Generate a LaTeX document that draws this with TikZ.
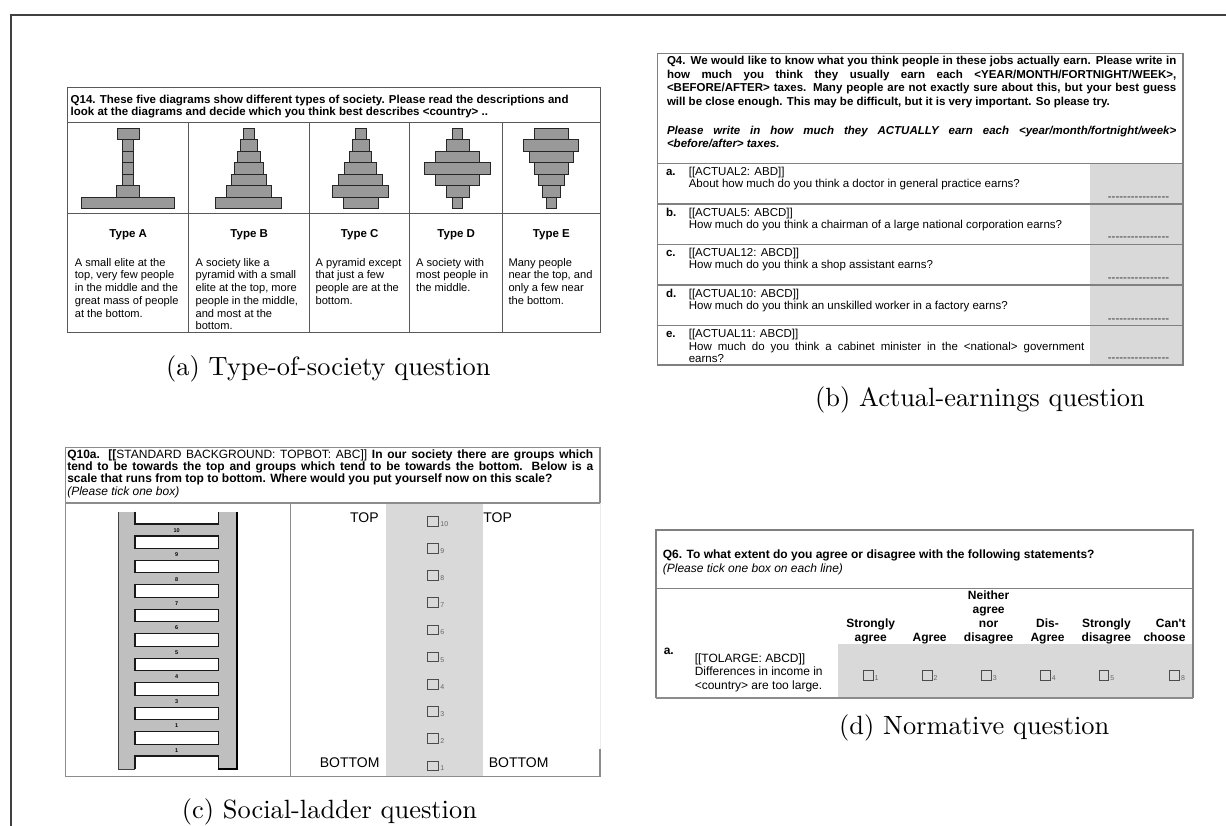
\documentclass[tikz,border=0pt]{standalone}
\usepackage{fontspec}
\newfontfamily\arial{Liberation Sans}
\newcommand\fs[1]{\fontsize{#1}{#1}\selectfont\arial}
\newcommand\hy{\hbox{-}}
\newcommand\dashline{\hy\hy\hy\hy\hy\hy\hy\hy\hy\hy\hy\hy\hy\hy\hy\hy}
\newcommand\capt[1]{\scalebox{2.64}{\fontsize{10}{12}\selectfont #1}}
\begin{document}
\begin{tikzpicture}[x=1pt,y=-1pt,
  frame/.style={draw=black!75, line width=1.5pt},
  gridA/.style={draw=black!65, line width=1pt},
  gridB/.style={draw=black!50, line width=1.3pt},
  gridC/.style={draw=black!45, line width=1.2pt},
  gridD/.style={draw=black!50, line width=1.2pt},
  shade/.style={fill=black!15},
  ladgray/.style={fill=black!25},
  rung/.style={fill=white, draw=black!90, line width=1.1pt},
  pyr/.style={draw=black!85, line width=0.7pt, fill=black!40},
  txt/.style={inner sep=0pt, anchor=base west},
  ctr/.style={inner sep=0pt, anchor=base},
  cbox/.style={draw=black!70, line width=0.8pt},
  sub/.style={font=\fs{7}, text=black!60, anchor=base west, inner sep=0pt},
  capnode/.style={inner sep=0pt, anchor=base west}]
\useasboundingbox (0,0) rectangle (1226,826);
\fill[white] (0,0) rectangle (1226,826);
% outer frame
\coordinate (f0) at (11,15); \coordinate (f1) at (1226,15); \coordinate (f2) at (11,826);
\draw[frame] (f1) -- (f0) -- (f2);

% ================= (a) =================
\draw[gridA] (67.7,87.3) rectangle (600.2,332.3);
\draw[gridA] (67.7,122.7) -- (600.2,122.7) (67.7,213.7) -- (600.2,213.7);
\foreach \x in {188.7,309.7,409.7,502.6} \draw[gridA] (\x,122.7) -- (\x,332.3);
\node[txt,font=\fs{11.5}\bfseries] (aq1) at (70.5,103.3) {Q14. These five diagrams show different types of society. Please read the descriptions and};
\node[txt,font=\fs{11.5}\bfseries] (aq2) at (70.5,115.3) {look at the diagrams and decide which you think best describes <country> ..};
% pyramids
\foreach \w [count=\r from 0] in {22.1,11.2,11.2,11.2,11.2,22.8,93}
  \draw[pyr] ({128.0-\w/2},{128.3+11.43*\r}) rectangle ++(\w,11.43);
\foreach \w [count=\r from 0] in {10.5,17.5,23.5,29.1,34.4,44.9,65.9}
  \draw[pyr] ({248.7-\w/2},{128.3+11.43*\r}) rectangle ++(\w,11.43);
\foreach \w [count=\r from 0] in {10.5,16.5,22.1,32.3,43.8,55.8,34.7}
  \draw[pyr] ({360.6-\w/2},{128.3+11.43*\r}) rectangle ++(\w,11.43);
\foreach \w [count=\r from 0] in {10.5,23.1,44.2,65.9,44.2,23.1,10.5}
  \draw[pyr] ({457.4-\w/2},{128.3+11.43*\r}) rectangle ++(\w,11.43);
\foreach \w [count=\r from 0] in {34,55.1,43.5,34,26.3,17.9,10.5}
  \draw[pyr] ({551.1-\w/2},{128.3+11.43*\r}) rectangle ++(\w,11.43);
% type heads
\node[ctr,font=\fs{11.5}\bfseries] (tA) at (128.2,238) {Type A};
\node[ctr,font=\fs{11.5}\bfseries] (tB) at (249.2,238) {Type B};
\node[ctr,font=\fs{11.5}\bfseries] (tC) at (359.7,238) {Type C};
\node[ctr,font=\fs{11.5}\bfseries] (tD) at (456.2,238) {Type D};
\node[ctr,font=\fs{11.5}\bfseries] (tE) at (551.4,238) {Type E};
\foreach \t [count=\i from 0] in {{A small elite at the},{top, very few people},{in the middle and the},{great mass of people},{at the bottom.}}
  \node[txt,font=\fs{11.1}] (dA\i) at (74.7,{266.3+12.7*\i}) {\t};
\foreach \t [count=\i from 0] in {{A society like a},{pyramid with a small},{elite at the top, more},{people in the middle,},{and most at the},{bottom.}}
  \node[txt,font=\fs{11.1}] (dB\i) at (195.4,{266.3+12.7*\i}) {\t};
\foreach \t [count=\i from 0] in {{A pyramid except},{that just a few},{people are at the},{bottom.}}
  \node[txt,font=\fs{11.1}] (dC\i) at (315.4,{266.3+12.7*\i}) {\t};
\foreach \t [count=\i from 0] in {{A society with},{most people in},{the middle.}}
  \node[txt,font=\fs{11.1}] (dD\i) at (416,{266.3+12.7*\i}) {\t};
\foreach \t [count=\i from 0] in {{Many people},{near the top, and},{only a few near},{the bottom.}}
  \node[txt,font=\fs{11.1}] (dE\i) at (508.3,{266.3+12.7*\i}) {\t};
\node[capnode] (capa) at (166,375) {\capt{(a) Type-of-society question}};

% ================= (b) =================
\fill[shade] (1090.2,163.3) rectangle (1183.1,365);
\draw[gridB] (657.7,53.3) rectangle (1183.1,365);
\foreach \y in {163.3,204,244.3,285,325.7} \draw[gridB] (657.7,\y) -- (1183.1,\y);
\node[txt,font=\fs{11.5}\bfseries] (bq1) at (666.8,64.8) {\makebox[509.3pt][s]{Q4. We would like to know what you think people in these jobs actually earn. Please write in}};
\node[txt,font=\fs{11.5}\bfseries] (bq2) at (666.8,78.3) {\makebox[509.3pt][s]{how much you think they usually earn each <YEAR/MONTH/FORTNIGHT/WEEK>,}};
\node[txt,font=\fs{11.5}\bfseries] (bq3) at (666.8,91.8) {\makebox[509.3pt][s]{<BEFORE/AFTER> taxes. Many people are not exactly sure about this, but your best guess}};
\node[txt,font=\fs{11.5}\bfseries] (bq4) at (666.8,105.3) {will be close enough. This may be difficult, but it is very important. So please try.};
\node[txt,font=\fs{11.5}\bfseries\itshape] (bq5) at (666.8,134.1) {\makebox[509.3pt][s]{Please write in how much they ACTUALLY earn each <year/month/fortnight/week>}};
\node[txt,font=\fs{11.5}\bfseries\itshape] (bq6) at (666.8,147.6) {<before/after> taxes.};
% rows
\foreach \top/\l/\c/\q [count=\i] in {
  163.3/a./{[[ACTUAL2: ABD]]}/{About how much do you think a doctor in general practice earns?},
  204/b./{[[ACTUAL5: ABCD]]}/{How much do you think a chairman of a large national corporation earns?},
  244.3/c./{[[ACTUAL12: ABCD]]}/{How much do you think a shop assistant earns?},
  285/d./{[[ACTUAL10: ABCD]]}/{How much do you think an unskilled worker in a factory earns?}}{
  \node[txt,font=\fs{11.5}\bfseries] (bl\i) at (665.8,{\top+12.2}) {\l};
  \node[txt,font=\fs{11.5}] (bc\i) at (688.6,{\top+12.2}) {\c};
  \node[txt,font=\fs{11.5}] (bt\i) at (688.6,{\top+24.7}) {\q};
}
\node[txt,font=\fs{11.5}\bfseries] (bl5) at (665.8,337.9) {e.};
\node[txt,font=\fs{11.5}] (bc5) at (688.6,337.9) {[[ACTUAL11: ABCD]]};
\node[txt,font=\fs{11.5}] (bt5) at (688.6,350.4) {\makebox[395.6pt][s]{How much do you think a cabinet minister in the <national> government}};
\node[txt,font=\fs{11.5}] (bu5) at (688.6,362.9) {earns?};
\foreach \y [count=\i] in {204,244.3,285,325.7,365}
  \node[txt,font=\fs{11.5},text=black!80] (bd\i) at (1107.7,{\y-3.3}) {\dashline};
\node[capnode] (capb) at (815,406.5) {\capt{(b) Actual-earnings question}};

% ================= (c) =================
\fill[shade] (386.1,503) rectangle (482.5,776.7);
\draw[gridC] (600,776.7) -- (65.4,776.7) -- (65.4,447.7) -- (600,447.7) -- (600,503);
\draw[gridC] (65.4,503) -- (600,503);
\draw[gridC] (290.4,503) -- (290.4,776.7);
\draw[draw=black!8, line width=1pt] (600,503) -- (600,749);
\draw[gridC] (600,749) -- (600,776.7);
\node[txt,font=\fs{12}\bfseries] (cq1) at (67.1,458.6) {\makebox[526pt][s]{Q10a. [[\mdseries STANDARD BACKGROUND: TOPBOT: ABC]]\bfseries{} In our society there are groups which}};
\node[txt,font=\fs{12}\bfseries] (cq2) at (67.1,470.6) {\makebox[526pt][s]{tend to be towards the top and groups which tend to be towards the bottom. Below is a}};
\node[txt,font=\fs{12}\bfseries] (cq3) at (67.1,482.6) {scale that runs from top to bottom. Where would you put yourself now on this scale?};
\node[txt,font=\fs{12}\itshape] (cq4) at (67.1,495) {(Please tick one box)};
% ladder
\fill[ladgray] (118.9,511.5) rectangle (236.8,769);
\foreach \k in {1,...,9}
  \draw[rung] (135,{511.5+24.45*\k}) rectangle (218.2,{524+24.45*\k});
\fill[white] (135,511.5) rectangle (218.2,524);
\draw[rung,fill=none] (135,511.5) -- (135,524) -- (218.2,524) -- (218.2,511.5);
\fill[white] (135,756) rectangle (218.2,769);
\draw[rung,fill=none] (135,769) -- (135,756) -- (218.2,756) -- (218.2,769);
\draw[draw=black!75, line width=0.9pt] (118.9,511.5) -- (118.9,769) -- (135,769);
\draw[draw=black, line width=1.5pt] (236.8,511.5) -- (236.8,769) -- (218.2,769);
\foreach \l [count=\i from 0] in {10,9,8,7,6,5,4,3,1,1}
  \node[font=\fs{5.5}\bfseries, inner sep=0pt] (ll\i) at (176.6,{530.3+24.45*\i}) {\l};
\node[txt,font=\fs{14},anchor=base east] (ctop1) at (378.9,522.7) {TOP};
\node[txt,font=\fs{14}] (ctop2) at (483.2,522.7) {TOP};
\node[txt,font=\fs{14},anchor=base east] (cbot1) at (379.6,767.7) {BOTTOM};
\node[txt,font=\fs{14}] (cbot2) at (488.6,767.7) {BOTTOM};
\foreach \k in {1,...,10}{
  \draw[cbox] (427.1,{765.7-27.17*(\k-1)-4.8}) rectangle ++(10.8,9.6);
  \node[sub] (cs\k) at (440.2,{765.7-27.17*(\k-1)+5}) {\k};
}
\node[capnode] (capc) at (181.7,818) {\capt{(c) Social-ladder question}};

% ================= (d) =================
\fill[shade] (838.2,644) rectangle (1192.9,698.3);
\draw[gridD] (656,698.3) -- (656,530) -- (1192.9,530) -- (1192.9,698.3);
\draw[gridD] (656,588.3) -- (1192.9,588.3);
\draw[draw=black!45, line width=2pt] (656,698.3) -- (1192.9,698.3);
\node[txt,font=\fs{12}\bfseries] (dq1) at (662.7,558.3) {Q6. To what extent do you agree or disagree with the following statements?};
\node[txt,font=\fs{12}\itshape] (dq2) at (662.7,572) {(Please tick one box on each line)};
\node[ctr,font=\fs{12}\bfseries] (h1a) at (870.7,627.6) {Strongly};
\node[ctr,font=\fs{12}\bfseries] (h1b) at (870.7,641) {agree};
\node[ctr,font=\fs{12}\bfseries] (h2a) at (929.6,641) {Agree};
\node[ctr,font=\fs{12}\bfseries] (h3a) at (988.6,599.3) {Neither};
\node[ctr,font=\fs{12}\bfseries] (h3b) at (988.6,613.6) {agree};
\node[ctr,font=\fs{12}\bfseries] (h3c) at (988.6,627.6) {nor};
\node[ctr,font=\fs{12}\bfseries] (h3d) at (988.6,641) {disagree};
\node[ctr,font=\fs{12}\bfseries] (h4a) at (1047.5,627.6) {Dis-};
\node[ctr,font=\fs{12}\bfseries] (h4b) at (1047.5,641) {Agree};
\node[ctr,font=\fs{12}\bfseries] (h5a) at (1106.4,627.6) {Strongly};
\node[ctr,font=\fs{12}\bfseries] (h5b) at (1106.4,641) {disagree};
\node[ctr,font=\fs{12}\bfseries,anchor=base east] (h6a) at (1185.7,627.6) {Can't};
\node[ctr,font=\fs{12}\bfseries,anchor=base east] (h6b) at (1185.7,641) {choose};
\node[txt,font=\fs{12}\bfseries] (dl) at (663.6,654.3) {a.};
\node[txt,font=\fs{12}] (dr1) at (694.6,662.6) {[[TOLARGE: ABCD]]};
\node[txt,font=\fs{12}] (dr2) at (694.6,675.3) {Differences in income in};
\node[txt,font=\fs{12}] (dr3) at (694.6,689.3) {<country> are too large.};
\foreach \cx/\n in {868.2/1,927.1/2,986.4/3,1045.4/4,1103.9/5,1174.6/8}{
  \draw[cbox] ({\cx-4.8},670.5) rectangle ++(9.6,9.6);
  \node[sub] (ds\n) at ({\cx+6.3},680.5) {\n};
}
\node[capnode] (capd) at (839,734.5) {\capt{(d) Normative question}};
\end{tikzpicture}
\end{document}
